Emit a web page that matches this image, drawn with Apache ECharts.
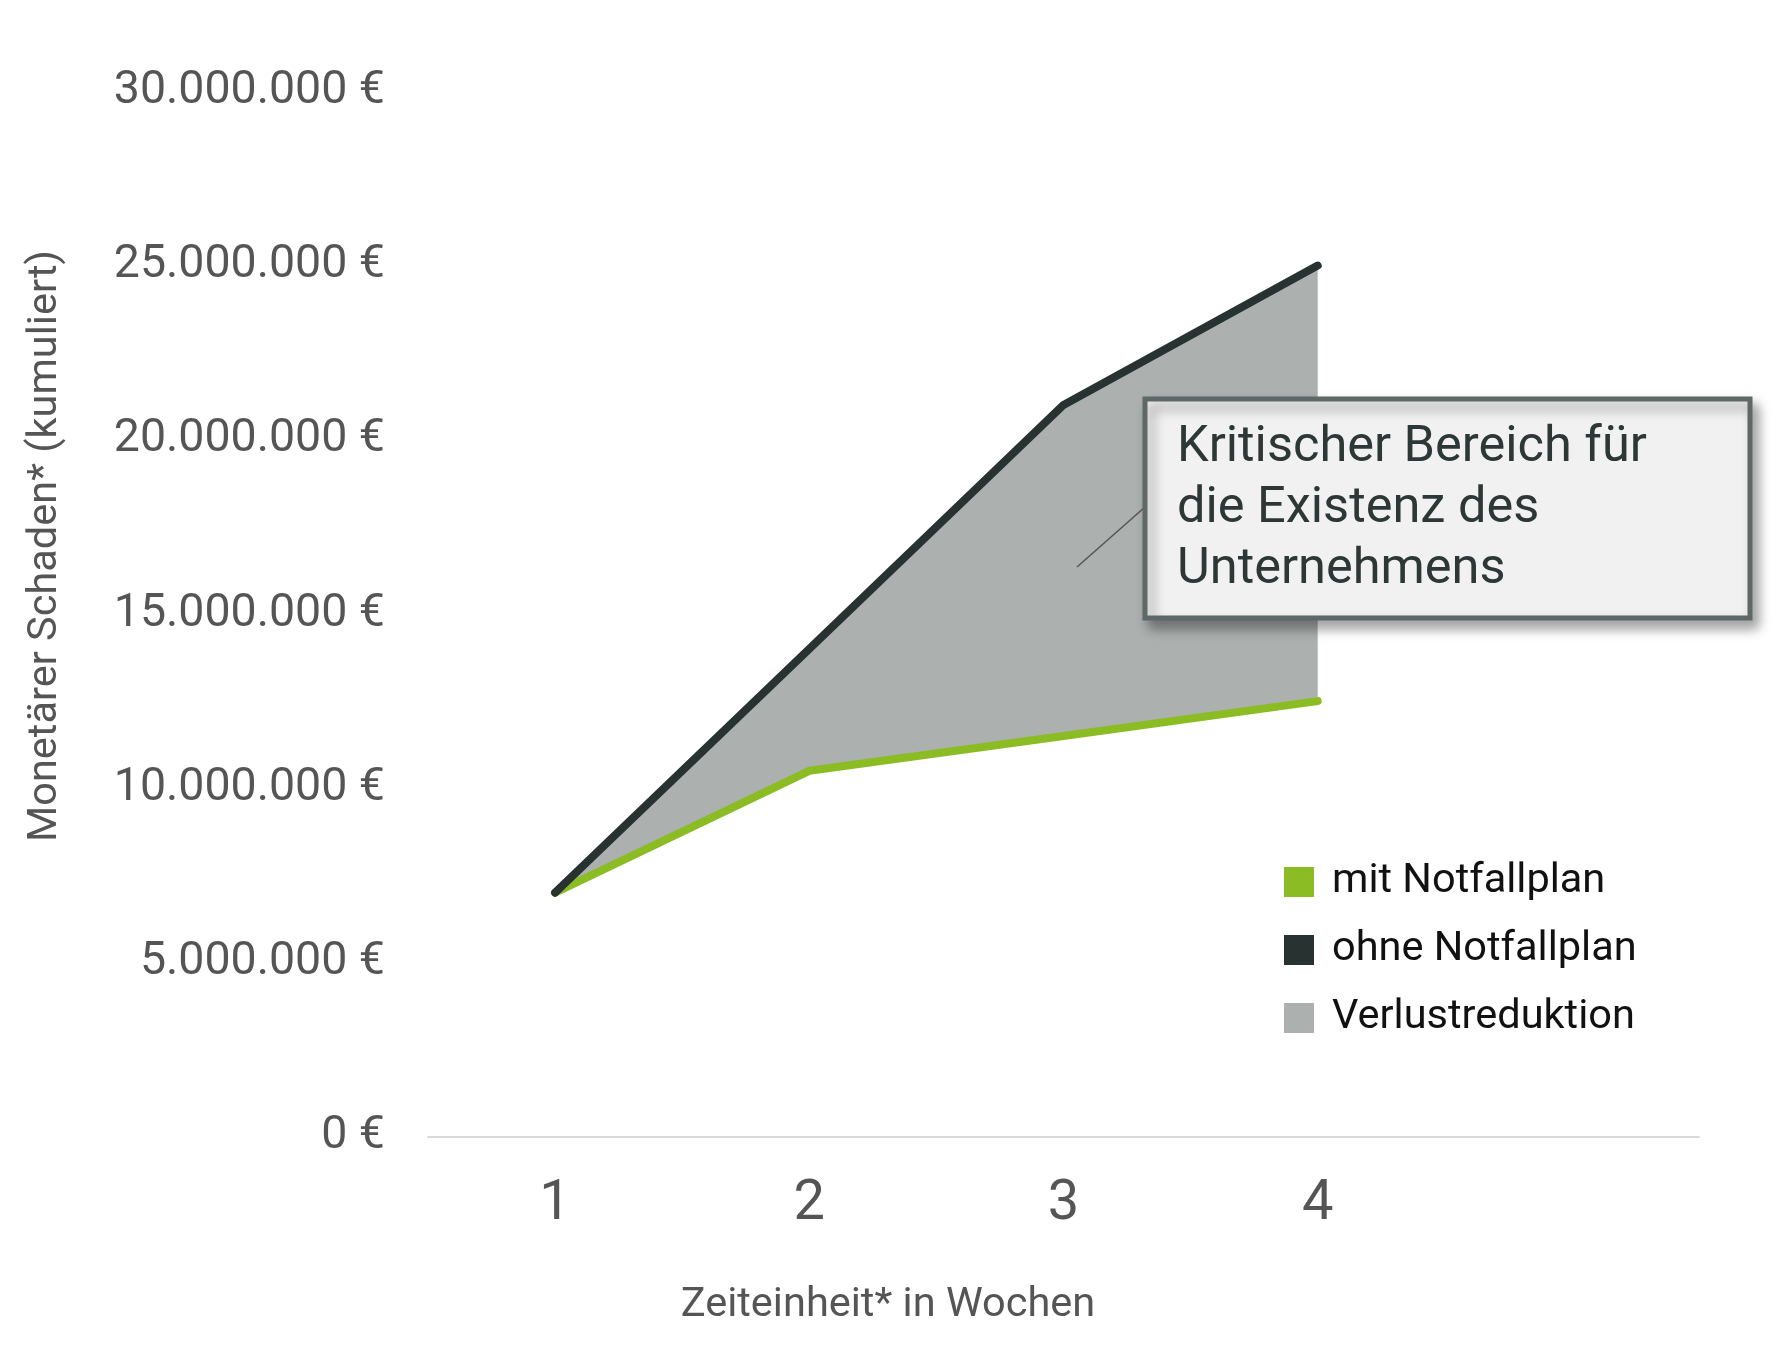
<!DOCTYPE html>
<html>
<head>
<meta charset="utf-8">
<script src="https://cdn.jsdelivr.net/npm/echarts@6/dist/echarts.min.js"></script>
<style>
html,body{margin:0;padding:0;background:#fff;}
#chart{width:1782px;height:1354px;}
</style>
</head>
<body>
<div id="chart"></div>
<script>
const categories = ['1', '2', '3', '4', ''];
const mitNotfallplan = [7000000, 10500000, 11500000, 12500000];
const ohneNotfallplan = [7000000, 14000000, 21000000, 25000000];
const yTicks = { min: 0, max: 30000000, interval: 5000000 };
const seriesNames = ['mit Notfallplan', 'ohne Notfallplan', 'Verlustreduktion'];
const annotationText = 'Kritischer Bereich für\ndie Existenz des\nUnternehmens';
const xAxisTitle = 'Zeiteinheit* in Wochen';
const yAxisTitle = 'Monetärer Schaden* (kumuliert)';

const diff = ohneNotfallplan.map((v, i) => v - mitNotfallplan[i]);

function fmt(v) {
  return String(v).replace(/\B(?=(\d{3})+(?!\d))/g, '.') + ' €';
}

const GREEN = '#8bbc24', DARK = '#283230', GRAY = '#acb1b0';
const chart = echarts.init(document.getElementById('chart'));
chart.setOption({
  animation: false,
  backgroundColor: '#fff',
  textStyle: { fontFamily: 'Roboto' },
  grid: { left: 428, right: 83, top: 91.4, bottom: 217.4 },
  legend: {
    orient: 'vertical',
    left: 1279, top: 856,
    itemWidth: 30, itemHeight: 30, itemGap: 26,
    icon: 'rect',
    data: seriesNames,
    textStyle: { fontSize: 41.5, lineHeight: 41, color: '#111', fontFamily: 'Roboto', padding: [0, 0, 0, 13] },
    selectedMode: false
  },
  xAxis: {
    type: 'category',
    data: categories,
    boundaryGap: true,
    axisLine: { lineStyle: { color: '#d9d9d9', width: 2 } },
    axisTick: { show: false },
    axisLabel: { fontSize: 56, color: '#555', margin: 40, interval: 0 }
  },
  yAxis: {
    type: 'value',
    min: yTicks.min, max: yTicks.max, interval: yTicks.interval,
    axisLine: { show: false },
    axisTick: { show: false },
    splitLine: { show: false },
    axisLabel: { fontSize: 46.5, color: '#555', margin: 43, formatter: fmt }
  },
  series: [
    { name: 'base', type: 'line', stack: 'a', data: mitNotfallplan, symbol: 'none',
      lineStyle: { width: 0, opacity: 0 }, areaStyle: { opacity: 0 }, silent: true },
    { name: seriesNames[2], type: 'line', stack: 'a', data: diff, symbol: 'none',
      lineStyle: { width: 0, opacity: 0 }, itemStyle: { color: GRAY },
      areaStyle: { color: GRAY, opacity: 1 } },
    { name: seriesNames[0], type: 'line', data: mitNotfallplan, symbol: 'none',
      itemStyle: { color: GREEN }, lineStyle: { color: GREEN, width: 8, cap: 'round', join: 'round' } },
    { name: seriesNames[1], type: 'line', data: ohneNotfallplan, symbol: 'none',
      itemStyle: { color: DARK }, lineStyle: { color: DARK, width: 8, cap: 'round', join: 'round' } }
  ],
  graphic: [
    { type: 'text', x: 888, y: 1306,
      style: { text: xAxisTitle, fontSize: 41.5, fill: '#555', fontFamily: 'Roboto', align: 'center', verticalAlign: 'middle' } },
    { type: 'text', x: 46, y: 546, rotation: Math.PI / 2,
      style: { text: yAxisTitle, fontSize: 41.5, fill: '#555', fontFamily: 'Roboto', align: 'center', verticalAlign: 'middle' } },
    { type: 'line', shape: { x1: 1077, y1: 567, x2: 1145, y2: 507 },
      style: { stroke: '#555', lineWidth: 1.5 }, z: 10 },
    { type: 'rect', shape: { x: 1145, y: 399, width: 605, height: 219 },
      style: { fill: '#f1f1f1', stroke: '#5e6867', lineWidth: 5,
        shadowBlur: 12, shadowOffsetX: 6, shadowOffsetY: 8, shadowColor: 'rgba(0,0,0,0.35)' }, z: 11 },
    { type: 'text', x: 1177, y: 418, z: 12,
      style: { text: annotationText, fontSize: 50.5, lineHeight: 61, fill: '#2d3836', fontFamily: 'Roboto', align: 'left', verticalAlign: 'top' } }
  ]
});
</script>
</body>
</html>
